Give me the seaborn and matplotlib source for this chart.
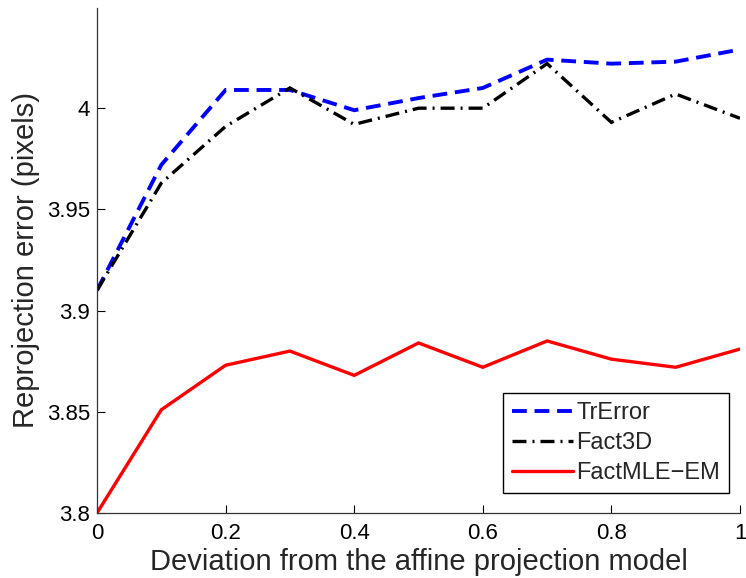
import matplotlib
matplotlib.use("Agg")
import matplotlib.pyplot as plt
import seaborn as sns
import pandas as pd

deviation = [0.0, 0.1, 0.2, 0.3, 0.4, 0.5, 0.6, 0.7, 0.8, 0.9, 1.0]
tr_error = [3.910, 3.972, 4.009, 4.009, 3.999, 4.005, 4.010, 4.024, 4.022, 4.023, 4.029]
fact3d = [3.910, 3.963, 3.991, 4.010, 3.992, 4.000, 4.000, 4.022, 3.993, 4.007, 3.995]
fact_mle_em = [3.800, 3.851, 3.873, 3.880, 3.868, 3.884, 3.872, 3.885, 3.876, 3.872, 3.881]
series_names = ["TrError", "Fact3D", "FactMLE\u2212EM"]
x_ticks = [0, 0.2, 0.4, 0.6, 0.8, 1.0]
x_tick_labels = ["0", "0.2", "0.4", "0.6", "0.8", "1"]
y_ticks = [3.8, 3.85, 3.9, 3.95, 4.0]
y_tick_labels = ["3.8", "3.85", "3.9", "3.95", "4"]

sns.set_style("ticks")
plt.rcParams["font.family"] = ["Liberation Sans", "DejaVu Sans"]

fig = plt.figure(figsize=(7.46, 5.78), dpi=100)
ax = fig.add_axes([97 / 746, 65 / 578, 643 / 746, 505 / 578])

styles = [
    dict(color=(0, 0, 1), lw=2.8, dashes=(3.8, 2.0)),
    dict(color=(0, 0, 0), lw=2.4, dashes=(4.2, 1.8, 0.6, 1.8)),
    dict(color=(1, 0, 0), lw=2.4, dashes=None),
]
values = [tr_error, fact3d, fact_mle_em]
for name, vals, st in zip(series_names, values, styles):
    df = pd.DataFrame({"x": deviation, "y": vals})
    sns.lineplot(data=df, x="x", y="y", ax=ax, color=st["color"], lw=st["lw"], label=name)
    line = ax.lines[-1]
    if st["dashes"] is not None:
        line.set_dashes(st["dashes"])
    line.set_solid_joinstyle("miter")
    line.set_dash_joinstyle("miter")

ax.set_xlim(0, 1)
ax.set_ylim(3.8, 4.0495)
ax.set_xticks(x_ticks)
ax.set_xticklabels(x_tick_labels)
ax.set_yticks(y_ticks)
ax.set_yticklabels(y_tick_labels)
ax.tick_params(direction="in", length=6, width=0.8, labelsize=16, colors="black")
ax.tick_params(axis="x", pad=7)
ax.tick_params(axis="y", pad=5)
for s in ["top", "right"]:
    ax.spines[s].set_visible(False)
for s in ["left", "bottom"]:
    ax.spines[s].set_color("#333333")
    ax.spines[s].set_linewidth(0.9)

ax.set_xlabel("Deviation from the affine projection model", fontsize=21, labelpad=3)
ax.set_ylabel("Reprojection error (pixels)", fontsize=21, labelpad=5)

leg = ax.legend(loc="lower right", bbox_to_anchor=((729 - 97) / 643, (513 - 493) / 505),
                borderaxespad=0, fontsize=17, frameon=True, fancybox=False,
                handlelength=2.55, handletextpad=0.15, labelspacing=0.33, borderpad=0.38)
leg.get_frame().set_edgecolor("black")
leg.get_frame().set_linewidth(1.0)
leg.get_frame().set_alpha(1)

fig.savefig("out.png", dpi=100)
